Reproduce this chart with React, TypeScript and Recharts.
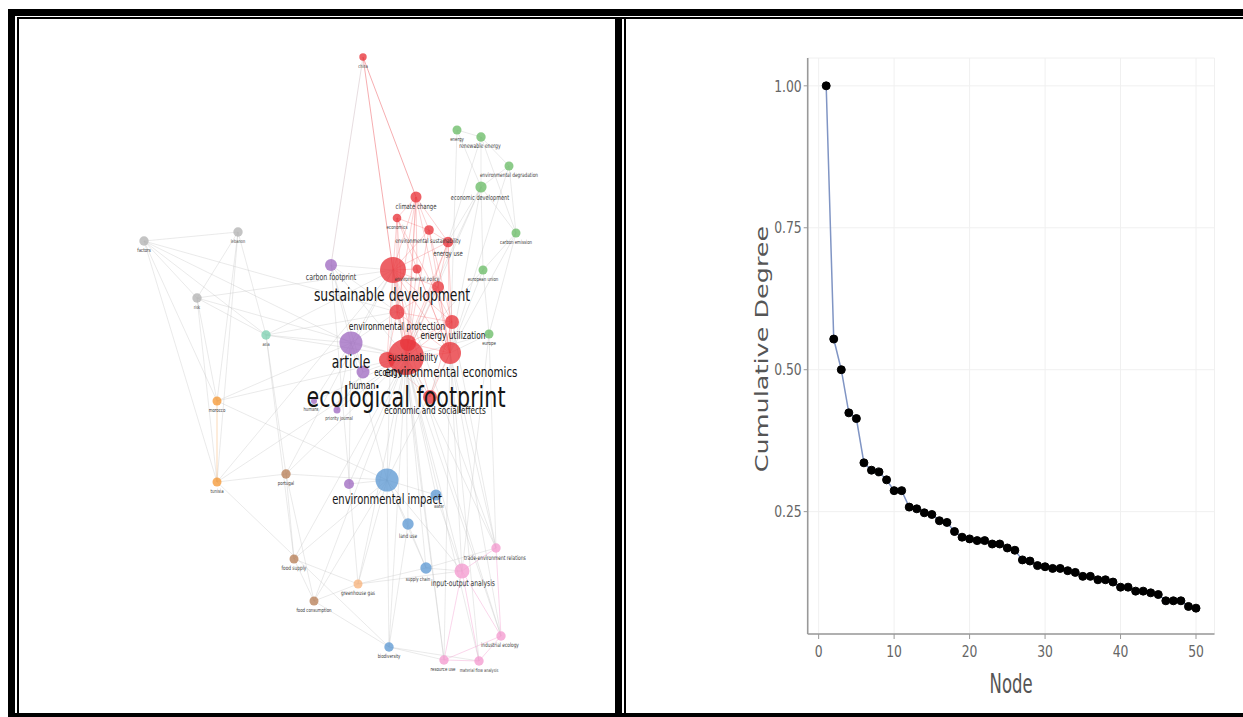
import React from 'react';
import {
  ScatterChart,
  Scatter,
  XAxis,
  YAxis,
  ReferenceLine,
  LineChart,
  Line,
  CartesianGrid,
  Label,
} from 'recharts';

// ---------- network map (left panel) ----------

const NARROW = "'Liberation Sans Narrow', 'Arial Narrow', 'DejaVu Sans Condensed', sans-serif";

const clusterColors: Record<string, string> = {
  red: '#e8353b',
  green: '#6cbd68',
  purple: '#a06cc2',
  teal: '#7fd1b2',
  gray: '#b3b3b3',
  orange: '#f59a38',
  brown: '#b98059',
  peach: '#f7b37c',
  blue: '#5f9ad3',
  pink: '#f39bd0',
};

interface KeywordNode {
  id: string;
  name: string;
  c: string;
  x: number;
  y: number;
  r: number;
  ly: number;
  lx?: number;
  fs: number; // 0 = label hidden under other labels
}

// keyword nodes: layout position, weight (radius) and label size
const nodes: KeywordNode[] = [
  { id: 'china', name: 'china', c: 'red', x: 363, y: 57, r: 3.7, ly: 66, fs: 5 },
  { id: 'clim', name: 'climate change', c: 'red', x: 416, y: 197, r: 5.5, ly: 207, fs: 7.5 },
  { id: 'econ', name: 'economics', c: 'red', x: 397, y: 218, r: 4.3, ly: 227, fs: 5.5 },
  { id: 'envsus', name: 'environmental sustainability', c: 'red', x: 429, y: 230, r: 4.8, ly: 241, lx: 428, fs: 6.5 },
  { id: 'enuse', name: 'energy use', c: 'red', x: 448, y: 242, r: 5.3, ly: 254, fs: 7.5 },
  { id: 'sd', name: 'sustainable development', c: 'red', x: 393, y: 270, r: 13, ly: 295, lx: 392, fs: 17.4 },
  { id: 'envpol', name: 'environmental policy', c: 'red', x: 417, y: 269, r: 4.5, ly: 279, fs: 6 },
  { id: 'envman', name: 'environmental management', c: 'red', x: 438, y: 287, r: 6, ly: 297, fs: 0 },
  { id: 'envprot', name: 'environmental protection', c: 'red', x: 397, y: 312, r: 7.5, ly: 326, fs: 10.7 },
  { id: 'enutil', name: 'energy utilization', c: 'red', x: 452, y: 322, r: 7, ly: 335, lx: 453, fs: 10.5 },
  { id: 'sust', name: 'sustainability', c: 'red', x: 408, y: 343, r: 8, ly: 357, lx: 413, fs: 10.5 },
  { id: 'ecol', name: 'ecology', c: 'red', x: 387, y: 360, r: 8, ly: 373, lx: 388, fs: 10 },
  { id: 'ef', name: 'ecological footprint', c: 'red', x: 406, y: 357, r: 18, ly: 397, fs: 29 },
  { id: 'enveco', name: 'environmental economics', c: 'red', x: 450, y: 353, r: 11, ly: 372, lx: 451, fs: 14.5 },
  { id: 'ese', name: 'economic and social effects', c: 'red', x: 430, y: 397, r: 7, ly: 410, lx: 435, fs: 10.3 },

  { id: 'energy', name: 'energy', c: 'green', x: 457, y: 130, r: 4.5, ly: 139, fs: 5.5 },
  { id: 'renew', name: 'renewable energy', c: 'green', x: 481, y: 137, r: 4.7, ly: 146, lx: 480, fs: 6.5 },
  { id: 'envdeg', name: 'environmental degradation', c: 'green', x: 509, y: 166, r: 4.5, ly: 175, fs: 6 },
  { id: 'ecodev', name: 'economic development', c: 'green', x: 481, y: 187, r: 5.6, ly: 197, lx: 480, fs: 7 },
  { id: 'carbem', name: 'carbon emission', c: 'green', x: 516, y: 233, r: 4.5, ly: 242, fs: 5.5 },
  { id: 'eu', name: 'european union', c: 'green', x: 483, y: 270, r: 4.5, ly: 279, fs: 5.5 },
  { id: 'europe', name: 'europe', c: 'green', x: 489, y: 334, r: 4.5, ly: 343, fs: 5.5 },

  { id: 'cfp', name: 'carbon footprint', c: 'purple', x: 331, y: 265, r: 6, ly: 277, fs: 8.8 },
  { id: 'article', name: 'article', c: 'purple', x: 351, y: 343, r: 11.5, ly: 362, fs: 17.4 },
  { id: 'human', name: 'human', c: 'purple', x: 363, y: 372, r: 6.5, ly: 385, lx: 362, fs: 10.8 },
  { id: 'prj', name: 'priority journal', c: 'purple', x: 337, y: 410, r: 3.5, ly: 418, lx: 339, fs: 5.3 },
  { id: 'humans', name: 'humans', c: 'purple', x: 314, y: 401, r: 3, ly: 409, lx: 311, fs: 5.3 },
  { id: 'ecosys', name: 'ecosystem', c: 'purple', x: 349, y: 484, r: 5, ly: 493, fs: 0 },

  { id: 'asia', name: 'asia', c: 'teal', x: 266, y: 335, r: 4.7, ly: 344, fs: 5 },
  { id: 'factors', name: 'factors', c: 'gray', x: 144, y: 241, r: 4.7, ly: 250, fs: 5.5 },
  { id: 'lebanon', name: 'lebanon', c: 'gray', x: 238, y: 232, r: 4.7, ly: 241, fs: 5 },
  { id: 'risk', name: 'risk', c: 'gray', x: 197, y: 298, r: 4.7, ly: 307, fs: 5 },
  { id: 'morocco', name: 'morocco', c: 'orange', x: 217, y: 401, r: 4.5, ly: 410, fs: 5.5 },
  { id: 'tunisia', name: 'tunisia', c: 'orange', x: 217, y: 482, r: 4.5, ly: 491, fs: 5.5 },
  { id: 'portugal', name: 'portugal', c: 'brown', x: 286, y: 474, r: 4.7, ly: 483, fs: 5.5 },
  { id: 'foodsup', name: 'food supply', c: 'brown', x: 294, y: 559, r: 4.5, ly: 568, fs: 6 },
  { id: 'foodcon', name: 'food consumption', c: 'brown', x: 314, y: 601, r: 4.5, ly: 610, fs: 5.5 },
  { id: 'ghg', name: 'greenhouse gas', c: 'peach', x: 358, y: 584, r: 4.5, ly: 593, fs: 6 },

  { id: 'envimp', name: 'environmental impact', c: 'blue', x: 387, y: 480, r: 11.5, ly: 499, fs: 14 },
  { id: 'water', name: 'water', c: 'blue', x: 436, y: 495, r: 5.5, ly: 506, lx: 439, fs: 5 },
  { id: 'landuse', name: 'land use', c: 'blue', x: 408, y: 524, r: 5.7, ly: 536, fs: 6 },
  { id: 'supch', name: 'supply chain', c: 'blue', x: 426, y: 568, r: 5.7, ly: 579, lx: 418, fs: 5.5 },
  { id: 'biodiv', name: 'biodiversity', c: 'blue', x: 389, y: 647, r: 4.7, ly: 656, fs: 5.5 },

  { id: 'trade', name: 'trade-environment relations', c: 'pink', x: 496, y: 548, r: 4.7, ly: 558, lx: 495, fs: 6.2 },
  { id: 'io', name: 'input-output analysis', c: 'pink', x: 462, y: 571, r: 7.5, ly: 583, lx: 463, fs: 8.5 },
  { id: 'indeco', name: 'industrial ecology', c: 'pink', x: 501, y: 636, r: 4.7, ly: 645, lx: 500, fs: 6 },
  { id: 'resuse', name: 'resource use', c: 'pink', x: 444, y: 660, r: 4.7, ly: 669, lx: 443, fs: 5.5 },
  { id: 'mfa', name: 'material flow analysis', c: 'pink', x: 479, y: 661, r: 4.7, ly: 670, fs: 5 },
];

// co-occurrence links
const edges: [string, string][] = [
  ['factors', 'lebanon'], ['factors', 'risk'], ['factors', 'asia'], ['factors', 'tunisia'], ['factors', 'morocco'],
  ['factors', 'article'], ['factors', 'envprot'], ['lebanon', 'risk'], ['lebanon', 'asia'], ['lebanon', 'tunisia'],
  ['lebanon', 'morocco'], ['risk', 'asia'], ['risk', 'morocco'], ['risk', 'tunisia'], ['risk', 'ef'], ['risk', 'sd'],
  ['morocco', 'tunisia'], ['morocco', 'article'], ['morocco', 'ef'], ['morocco', 'envimp'], ['tunisia', 'biodiv'],
  ['tunisia', 'portugal'], ['tunisia', 'ef'], ['tunisia', 'sd'], ['asia', 'article'], ['asia', 'sd'], ['asia', 'ef'],
  ['asia', 'envprot'], ['asia', 'foodsup'], ['asia', 'portugal'], ['portugal', 'foodsup'], ['portugal', 'foodcon'],
  ['portugal', 'ef'], ['portugal', 'envimp'], ['portugal', 'sd'], ['foodsup', 'foodcon'], ['foodsup', 'ef'],
  ['foodsup', 'ghg'], ['foodsup', 'envimp'], ['foodcon', 'biodiv'], ['foodcon', 'ef'], ['foodcon', 'envimp'],
  ['foodcon', 'ghg'], ['ghg', 'ef'], ['ghg', 'envimp'], ['ghg', 'cfp'], ['ghg', 'io'], ['ghg', 'supch'],
  ['china', 'clim'], ['china', 'sd'], ['china', 'cfp'],
  ['energy', 'renew'], ['energy', 'ecodev'], ['energy', 'enveco'], ['renew', 'ecodev'], ['renew', 'envdeg'],
  ['renew', 'carbem'], ['renew', 'enuse'], ['envdeg', 'ecodev'], ['envdeg', 'carbem'], ['envdeg', 'enveco'],
  ['ecodev', 'carbem'], ['ecodev', 'eu'], ['ecodev', 'enveco'], ['ecodev', 'enuse'], ['ecodev', 'ef'],
  ['ecodev', 'sust'], ['carbem', 'eu'], ['carbem', 'europe'], ['carbem', 'enveco'], ['eu', 'europe'],
  ['eu', 'enveco'], ['eu', 'ef'], ['europe', 'enveco'], ['europe', 'ef'], ['europe', 'trade'], ['europe', 'io'],
  ['clim', 'econ'], ['clim', 'envsus'], ['clim', 'enuse'], ['clim', 'sd'], ['clim', 'ef'], ['clim', 'enveco'],
  ['clim', 'sust'], ['clim', 'envprot'], ['econ', 'envsus'], ['econ', 'sd'], ['econ', 'ef'], ['econ', 'envprot'],
  ['econ', 'enveco'], ['envsus', 'enuse'], ['envsus', 'sd'], ['envsus', 'ef'], ['envsus', 'enveco'],
  ['envsus', 'enutil'], ['enuse', 'sd'], ['enuse', 'ef'], ['enuse', 'enveco'], ['enuse', 'enutil'],
  ['enuse', 'envman'], ['enuse', 'sust'], ['sd', 'envpol'], ['sd', 'envman'], ['sd', 'envprot'], ['sd', 'enutil'],
  ['sd', 'sust'], ['sd', 'ef'], ['sd', 'enveco'], ['sd', 'ecol'], ['sd', 'ese'], ['envpol', 'ef'],
  ['envpol', 'enveco'], ['envman', 'ef'], ['envman', 'enveco'], ['envman', 'envprot'], ['envprot', 'enutil'],
  ['envprot', 'sust'], ['envprot', 'ef'], ['envprot', 'enveco'], ['envprot', 'ecol'], ['enutil', 'sust'],
  ['enutil', 'ef'], ['enutil', 'enveco'], ['enutil', 'ese'], ['sust', 'ef'], ['sust', 'enveco'], ['ef', 'enveco'],
  ['ef', 'ecol'], ['ef', 'ese'], ['enveco', 'ese'], ['ecol', 'ese'], ['econ', 'enutil'], ['clim', 'envpol'],
  ['cfp', 'article'], ['cfp', 'sd'], ['cfp', 'ef'], ['cfp', 'envprot'], ['cfp', 'human'], ['article', 'human'],
  ['article', 'ef'], ['article', 'sd'], ['article', 'envprot'], ['article', 'prj'], ['article', 'humans'],
  ['article', 'envimp'], ['human', 'ef'], ['human', 'prj'], ['prj', 'ef'], ['humans', 'ef'], ['ecosys', 'envimp'],
  ['ecosys', 'ef'], ['ecosys', 'article'],
  ['envimp', 'ef'], ['envimp', 'sd'], ['envimp', 'enveco'], ['envimp', 'water'], ['envimp', 'landuse'],
  ['envimp', 'supch'], ['envimp', 'biodiv'], ['envimp', 'io'], ['water', 'ef'], ['water', 'io'], ['landuse', 'ef'],
  ['landuse', 'supch'], ['landuse', 'biodiv'], ['supch', 'io'], ['supch', 'ef'], ['supch', 'trade'],
  ['biodiv', 'ef'], ['biodiv', 'resuse'], ['biodiv', 'mfa'],
  ['trade', 'io'], ['trade', 'indeco'], ['trade', 'ef'], ['trade', 'enveco'], ['trade', 'sd'], ['io', 'indeco'],
  ['io', 'resuse'], ['io', 'mfa'], ['io', 'ef'], ['io', 'enveco'], ['indeco', 'resuse'], ['indeco', 'mfa'],
  ['indeco', 'ef'], ['indeco', 'enveco'], ['resuse', 'mfa'], ['resuse', 'ef'], ['resuse', 'sd'], ['mfa', 'ef'],
  ['mfa', 'enveco'], ['trade', 'enutil'], ['indeco', 'sust'], ['resuse', 'enveco'],
];

const nodeById: Record<string, KeywordNode> = Object.fromEntries(nodes.map((n) => [n.id, n]));

function edgeStyle(a: KeywordNode, b: KeywordNode) {
  if (a.id === 'china' || b.id === 'china') {
    return a.c === b.c ? { stroke: '#e8353b', opacity: 0.5 } : { stroke: '#c9b0b8', opacity: 0.55 };
  }
  if (a.c === b.c && a.c === 'red') return { stroke: '#ef5a5e', opacity: 0.35 };
  if (a.c === b.c && a.c === 'pink') return { stroke: '#f08cc6', opacity: 0.45 };
  if (a.c === b.c && a.c === 'orange') return { stroke: '#f5a04a', opacity: 0.5 };
  return { stroke: '#c4c4c4', opacity: 0.45 };
}

const nodesByWeight = [...nodes].sort((a, b) => b.r - a.r);
const labelPoints = nodes
  .filter((n) => n.fs > 0)
  .sort((a, b) => a.fs - b.fs)
  .map((n) => ({ x: n.lx ?? n.x, y: n.ly, name: n.name, fs: n.fs }));

const NodeDot = (props: any) => {
  const { cx, cy, payload } = props;
  if (cx == null || cy == null) return null;
  return <circle cx={cx} cy={cy} r={payload.r} fill={clusterColors[payload.c]} fillOpacity={0.78} />;
};

// labels in the map are set in a condensed face
const NodeLabel = (props: any) => {
  const { cx, cy, payload } = props;
  if (cx == null || cy == null) return null;
  return (
    <text
      transform={`translate(${cx},${cy}) scale(0.79,1)`}
      x={0}
      y={0}
      textAnchor="middle"
      dominantBaseline="central"
      fontSize={payload.fs}
      fontFamily={NARROW}
      fill={payload.fs > 9 ? '#151515' : '#3a3a3a'}
    >
      {payload.name}
    </text>
  );
};

function KeywordNetwork() {
  return (
    <ScatterChart width={596} height={694} margin={{ top: 0, right: 0, bottom: 0, left: 0 }}>
      <XAxis type="number" dataKey="x" domain={[19, 615]} hide />
      <YAxis type="number" dataKey="y" domain={[19, 713]} reversed hide />
      {edges.map(([a, b], i) => {
        const s = nodeById[a];
        const t = nodeById[b];
        const st = edgeStyle(s, t);
        return (
          <ReferenceLine
            key={`e-${i}`}
            segment={[{ x: s.x, y: s.y }, { x: t.x, y: t.y }]}
            stroke={st.stroke}
            strokeOpacity={st.opacity}
            strokeWidth={0.8}
          />
        );
      })}
      <Scatter data={nodesByWeight} shape={NodeDot} isAnimationActive={false} />
      <Scatter data={labelPoints} shape={NodeLabel} isAnimationActive={false} />
    </ScatterChart>
  );
}

// ---------- cumulative degree plot (right panel) ----------

const nodeRank = Array.from({ length: 50 }, (_, i) => i + 1);
const cumulativeDegree = [
  1.0, 0.554, 0.5, 0.424, 0.414, 0.336, 0.323, 0.32, 0.306, 0.287,
  0.287, 0.258, 0.255, 0.248, 0.245, 0.234, 0.231, 0.215, 0.205, 0.202,
  0.199, 0.199, 0.193, 0.193, 0.186, 0.182, 0.165, 0.163, 0.155, 0.153,
  0.15, 0.15, 0.146, 0.143, 0.136, 0.136, 0.13, 0.13, 0.126, 0.117,
  0.117, 0.11, 0.11, 0.107, 0.104, 0.093, 0.093, 0.093, 0.083, 0.08,
];
const xTicks = [0, 10, 20, 30, 40, 50];
const yTicks = [0.25, 0.5, 0.75, 1.0];

const degreeData = nodeRank.map((node, i) => ({ node, degree: cumulativeDegree[i] }));

const XTick = (props: any) => {
  const { x, y, payload } = props;
  return (
    <text
      transform={`translate(${x},${y}) scale(0.86,1)`}
      textAnchor="middle"
      dy="0.71em"
      fontSize={16}
      fontFamily={NARROW}
      fill="#666"
    >
      {payload.value}
    </text>
  );
};

const YTick = (props: any) => {
  const { x, y, payload } = props;
  return (
    <text
      transform={`translate(${x},${y}) scale(0.86,1)`}
      textAnchor="end"
      dy="0.355em"
      fontSize={16}
      fontFamily={NARROW}
      fill="#666"
    >
      {Number(payload.value).toFixed(2)}
    </text>
  );
};

const YTitle = (props: any) => {
  const vb = props.viewBox;
  const x = vb.x + 14;
  const y = vb.y + vb.height / 2 + 3;
  return (
    <text
      transform={`translate(${x},${y}) scale(0.68,1) rotate(-90)`}
      textAnchor="middle"
      dominantBaseline="central"
      fontSize={25.5}
      fontFamily="'DejaVu Sans', Verdana, sans-serif"
      fill="#555"
    >
      Cumulative Degree
    </text>
  );
};

const XTitle = (props: any) => {
  const vb = props.viewBox;
  return (
    <text
      x={vb.x + vb.width / 2}
      y={vb.y + 49}
      textAnchor="middle"
      dominantBaseline="central"
      fontSize={27}
      fontFamily={NARROW}
      textLength={43}
      lengthAdjust="spacingAndGlyphs"
      fill="#555"
    >
      Node
    </text>
  );
};

function DegreeChart() {
  return (
    <LineChart
      width={617}
      height={694}
      data={degreeData}
      margin={{ top: 39, right: 28.5, bottom: 19, left: 121.7 }}
    >
      <CartesianGrid stroke="#f0f0f0" strokeWidth={1} />
      <XAxis
        type="number"
        dataKey="node"
        domain={[-1.45, 52.45]}
        ticks={xTicks}
        height={60}
        axisLine={{ stroke: '#999', strokeWidth: 1.6 }}
        tickLine={{ stroke: '#999' }}
        tickSize={5}
        tickMargin={7}
        tick={XTick}
      >
        <Label content={XTitle} />
      </XAxis>
      <YAxis
        type="number"
        domain={[0.0345, 1.049]}
        ticks={yTicks}
        width={60}
        axisLine={{ stroke: '#999', strokeWidth: 1.6 }}
        tickLine={{ stroke: '#999' }}
        tickSize={4}
        tick={YTick}
      >
        <Label content={YTitle} />
      </YAxis>
      <Line
        type="linear"
        dataKey="degree"
        stroke="#8095c4"
        strokeWidth={1.5}
        dot={{ r: 4, fill: '#000', stroke: '#000', strokeWidth: 1 }}
        isAnimationActive={false}
      />
    </LineChart>
  );
}

// ---------- page with black frame ----------

const block = (left: number, top: number, width: number, height: number): React.CSSProperties => ({
  position: 'absolute',
  left,
  top,
  width,
  height,
  background: '#000',
});

export default function App() {
  return (
    <div style={{ position: 'absolute', left: 0, top: 0, width: 1243, height: 717, background: '#fff', overflow: 'hidden' }}>
      <div style={{ position: 'absolute', left: 19, top: 19 }}>
        <KeywordNetwork />
      </div>
      <div style={{ position: 'absolute', left: 626, top: 19 }}>
        <DegreeChart />
      </div>
      <div style={block(8, 9, 1235, 7)} />
      <div style={block(8, 9, 7, 708)} />
      <div style={block(8, 713, 1235, 4)} />
      <div style={block(17, 17, 1226, 2)} />
      <div style={block(17, 17, 2, 696)} />
      <div style={block(615, 17, 7, 700)} />
      <div style={block(624, 17, 2, 700)} />
    </div>
  );
}
